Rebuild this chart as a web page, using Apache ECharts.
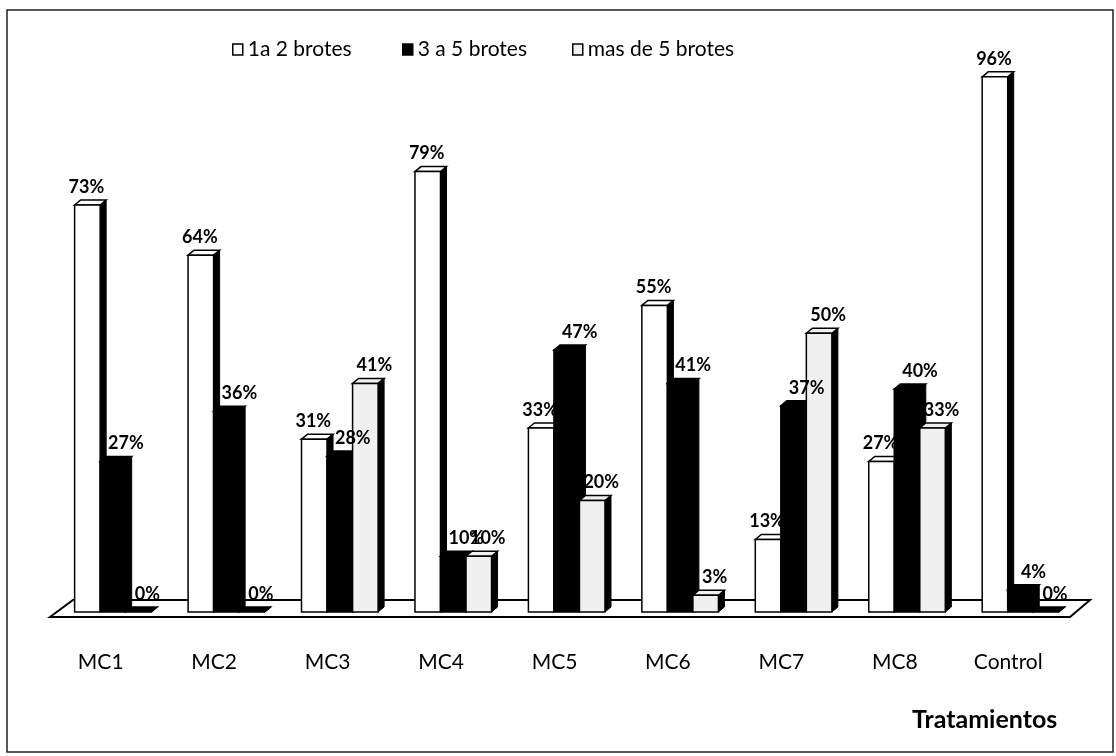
<!DOCTYPE html>
<html>
<head>
<meta charset="utf-8">
<script src="https://cdn.jsdelivr.net/npm/echarts@6/dist/echarts.min.js"></script>
<style>
html,body{margin:0;padding:0;background:#fff;}
#chart{width:1116px;height:756px;}
</style>
</head>
<body>
<div id="chart"></div>
<script>
const categories = ['MC1','MC2','MC3','MC4','MC5','MC6','MC7','MC8','Control'];
const seriesNames = ['1a 2 brotes','3 a 5 brotes','mas de 5 brotes'];
const brotes1a2 = [73,64,31,79,33,55,13,27,96];
const brotes3a5 = [27,36,28,10,47,41,37,40,4];
const brotesMas5 = [0,0,41,10,20,3,50,33,0];
const axisTitle = 'Tratamientos';

const colors = ['#ffffff','#000000','#f0f0f0'];
const labelDx = [-1, 13, 9];
const legendLeft = [227, 397, 567];
const FONT = 'Lato';

function makeRender(k){
  return function(params, api){
    const ci = api.value(0), v = api.value(1);
    const base = api.coord([ci, 0]);
    const top = api.coord([ci, v]);
    const band = api.size([1,0])[0];
    const w = band*0.225;
    const x = base[0] - band*0.23 + k*w;
    const yb = base[1], yt = top[1];
    const dx = 6, dy = 5;
    const fill = colors[k];
    const children = [];
    children.push({type:'polygon', z2:0, shape:{points:[[x+w,yt],[x+w+dx,yt-dy],[x+w+dx,yb-dy],[x+w,yb]]},
      style:{fill:'#000', stroke:'#000', lineWidth:1}});
    children.push({type:'polygon', z2:0, shape:{points:[[x,yt],[x+dx,yt-dy],[x+w+dx,yt-dy],[x+w,yt]]},
      style:{fill: v===0 ? '#000' : fill, stroke:'#000', lineWidth:1.5}});
    if (v > 0) {
      children.push({type:'rect', z2:0, shape:{x:x, y:yt, width:w, height:yb-yt},
        style:{fill:fill, stroke:'#000', lineWidth:1.5}});
    }
    children.push({type:'text', z2: k === 0 ? 0 : 10,
      style:{text: v + '%', x: x + w/2 + labelDx[k], y: yt - dy - 13,
      align:'center', verticalAlign:'middle', font:'bold 18px ' + FONT, fill:'#000'}});
    return {type:'group', children};
  };
}

function floorRender(params, api){
  if (params.dataIndex !== 0) return null;
  const cs = params.coordSys;
  const yb = cs.y + cs.height;
  const x0 = cs.x, x1 = cs.x + cs.width;
  return {type:'polygon', shape:{points:[[x0+6,yb+5],[x0+29,yb-12],[x1+25,yb-12],[x1+5,yb+5]]},
    style:{fill:'#fff', stroke:'#000', lineWidth:2}};
}

const dataSets = [brotes1a2, brotes3a5, brotesMas5];
const series = [{
  type:'custom', name:'floor', renderItem: floorRender, data:[[0,0]], silent:true, z:1
}];
dataSets.forEach((arr,k)=>{
  series.push({
    type:'custom', name: seriesNames[k], renderItem: makeRender(k),
    itemStyle:{color: colors[k], borderColor:'#000'},
    encode:{x:0,y:1},
    data: arr.map((v,i)=>[i,v]), z:2
  });
});

const legends = seriesNames.map((n,k)=>({
  top:34, left:legendLeft[k], itemWidth:10, itemHeight:11, itemGap:0,
  textStyle:{fontFamily:FONT, fontSize:21, color:'#000'},
  data:[{name:n, icon:'rect', itemStyle:{color:colors[k], borderColor:'#000', borderWidth:1.5}}]
}));

const chart = echarts.init(document.getElementById('chart'));
chart.setOption({
  backgroundColor:'#fff',
  animation:false,
  grid:{left:44, right:51, top:54.5, bottom:144},
  legend: legends,
  xAxis:{type:'category', data:categories,
    axisLine:{show:false}, axisTick:{show:false}, splitLine:{show:false},
    axisLabel:{margin:40, fontFamily:FONT, fontSize:21, color:'#000'}},
  yAxis:{type:'value', min:0, max:100, show:false},
  graphic:[
    {type:'rect', shape:{x:7, y:10, width:1106, height:742}, style:{fill:null, stroke:'#222', lineWidth:1.5}, z:0},
    {type:'text', left:912, top:707, style:{text:axisTitle, font:'bold 25px ' + FONT, fill:'#000'}}
  ],
  series
});
</script>
</body>
</html>
